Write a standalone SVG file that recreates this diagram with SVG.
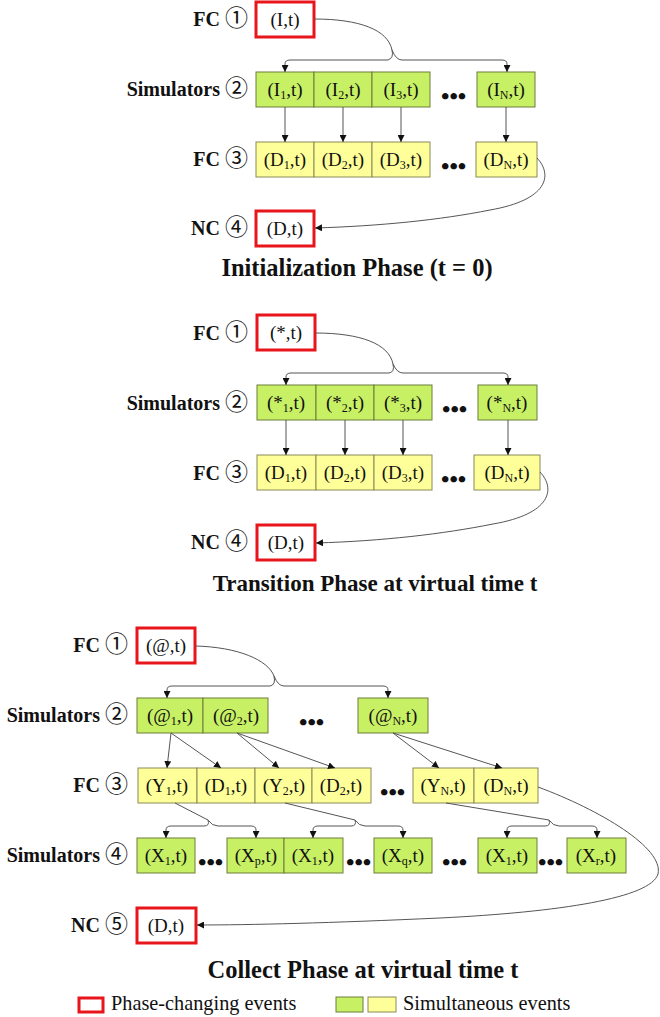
<svg xmlns="http://www.w3.org/2000/svg" width="660" height="1017" viewBox="0 0 660 1017">
  <style>
    .bg{fill:#ffffff}
    .phase{fill:#ffffff;stroke:#e8151b;stroke-width:3}
    .sim{fill:#c8f064;stroke:#6d7c3b;stroke-width:1}
    .fc{fill:#ffff99;stroke:#8a8a58;stroke-width:1}
    .ev{font-family:"Liberation Serif","Times New Roman",serif;font-size:19px;fill:#111;text-anchor:middle}
    .lbl{font-family:"Liberation Serif","Times New Roman",serif;font-size:20px;font-weight:bold;fill:#111;text-anchor:end}
    .num{font-family:"Noto Sans CJK JP","DejaVu Sans",sans-serif;font-weight:normal;font-size:23px}
    .dots{font-family:"Liberation Serif","Times New Roman",serif;font-size:24px;font-weight:bold;fill:#111}
    .title{font-family:"Liberation Serif","Times New Roman",serif;font-size:24.5px;font-weight:bold;fill:#111;text-anchor:middle}
    .leg{font-family:"Liberation Serif","Times New Roman",serif;font-size:20.3px;fill:#111}
    .sub{font-size:12px}
    .wire{fill:none;stroke:#555;stroke-width:1}
    .arr{marker-end:url(#head)}
  </style>
  <defs>
    <marker id="head" viewBox="0 0 8 8" refX="8" refY="4" markerWidth="7" markerHeight="7" markerUnits="userSpaceOnUse" orient="auto">
      <path d="M0,0 L8,4 L0,8 z" fill="#111"/>
    </marker>
  </defs>
  <rect class="bg" x="0" y="0" width="660" height="1017"/>

  <!-- ===== Initialization phase ===== -->
  <g id="init-labels">
    <text class="lbl" x="248" y="26">FC <tspan class="num">①</tspan></text>
    <text class="lbl" x="248" y="96">Simulators <tspan class="num">②</tspan></text>
    <text class="lbl" x="248" y="166">FC <tspan class="num">③</tspan></text>
    <text class="lbl" x="248" y="235">NC <tspan class="num">④</tspan></text>
  </g>
  <g id="init-fc1"><rect class="phase" x="256" y="2" width="58" height="35"/><text class="ev" x="285" y="26">(I,t)</text></g>
  <g id="init-sim1"><rect class="sim" x="256" y="72" width="58" height="35"/><text class="ev" x="285" y="96">(I<tspan class="sub" dy="3">1</tspan><tspan dy="-3">,t)</tspan></text></g>
  <g id="init-sim2"><rect class="sim" x="314" y="72" width="58" height="35"/><text class="ev" x="343" y="96">(I<tspan class="sub" dy="3">2</tspan><tspan dy="-3">,t)</tspan></text></g>
  <g id="init-sim3"><rect class="sim" x="372" y="72" width="58" height="35"/><text class="ev" x="401" y="96">(I<tspan class="sub" dy="3">3</tspan><tspan dy="-3">,t)</tspan></text></g>
  <text class="dots" x="441" y="104">•••</text>
  <g id="init-simN"><rect class="sim" x="477" y="72" width="58" height="35"/><text class="ev" x="506" y="96">(I<tspan class="sub" dy="3">N</tspan><tspan dy="-3">,t)</tspan></text></g>
  <g id="init-fcd1"><rect class="fc" x="256" y="142" width="58" height="35"/><text class="ev" x="285" y="166">(D<tspan class="sub" dy="3">1</tspan><tspan dy="-3">,t)</tspan></text></g>
  <g id="init-fcd2"><rect class="fc" x="314" y="142" width="58" height="35"/><text class="ev" x="343" y="166">(D<tspan class="sub" dy="3">2</tspan><tspan dy="-3">,t)</tspan></text></g>
  <g id="init-fcd3"><rect class="fc" x="372" y="142" width="58" height="35"/><text class="ev" x="401" y="166">(D<tspan class="sub" dy="3">3</tspan><tspan dy="-3">,t)</tspan></text></g>
  <text class="dots" x="441" y="174">•••</text>
  <g id="init-fcdN"><rect class="fc" x="476" y="142" width="61" height="35"/><text class="ev" x="506" y="166">(D<tspan class="sub" dy="3">N</tspan><tspan dy="-3">,t)</tspan></text></g>
  <g id="init-nc"><rect class="phase" x="256" y="211" width="58" height="35"/><text class="ev" x="285" y="235">(D,t)</text></g>
  <text class="title" x="357" y="276">Initialization Phase (t = 0)</text>

  <!-- ===== Transition phase ===== -->
  <g id="trans-labels">
    <text class="lbl" x="248" y="340">FC <tspan class="num">①</tspan></text>
    <text class="lbl" x="248" y="410">Simulators <tspan class="num">②</tspan></text>
    <text class="lbl" x="248" y="480">FC <tspan class="num">③</tspan></text>
    <text class="lbl" x="248" y="549">NC <tspan class="num">④</tspan></text>
  </g>
  <g id="trans-fc1"><rect class="phase" x="257" y="315" width="58" height="35"/><text class="ev" x="286" y="339">(*,t)</text></g>
  <g id="trans-sim1"><rect class="sim" x="257" y="385" width="59" height="35"/><text class="ev" x="286" y="409">(*<tspan class="sub" dy="3">1</tspan><tspan dy="-3">,t)</tspan></text></g>
  <g id="trans-sim2"><rect class="sim" x="316" y="385" width="58" height="35"/><text class="ev" x="345" y="409">(*<tspan class="sub" dy="3">2</tspan><tspan dy="-3">,t)</tspan></text></g>
  <g id="trans-sim3"><rect class="sim" x="374" y="385" width="58" height="35"/><text class="ev" x="403" y="409">(*<tspan class="sub" dy="3">3</tspan><tspan dy="-3">,t)</tspan></text></g>
  <text class="dots" x="442" y="417">•••</text>
  <g id="trans-simN"><rect class="sim" x="478" y="385" width="59" height="35"/><text class="ev" x="507" y="409">(*<tspan class="sub" dy="3">N</tspan><tspan dy="-3">,t)</tspan></text></g>
  <g id="trans-fcd1"><rect class="fc" x="257" y="455" width="59" height="35"/><text class="ev" x="286" y="479">(D<tspan class="sub" dy="3">1</tspan><tspan dy="-3">,t)</tspan></text></g>
  <g id="trans-fcd2"><rect class="fc" x="316" y="455" width="58" height="35"/><text class="ev" x="345" y="479">(D<tspan class="sub" dy="3">2</tspan><tspan dy="-3">,t)</tspan></text></g>
  <g id="trans-fcd3"><rect class="fc" x="374" y="455" width="58" height="35"/><text class="ev" x="403" y="479">(D<tspan class="sub" dy="3">3</tspan><tspan dy="-3">,t)</tspan></text></g>
  <text class="dots" x="441" y="487">•••</text>
  <g id="trans-fcdN"><rect class="fc" x="474" y="455" width="66" height="35"/><text class="ev" x="507" y="479">(D<tspan class="sub" dy="3">N</tspan><tspan dy="-3">,t)</tspan></text></g>
  <g id="trans-nc"><rect class="phase" x="257" y="525" width="58" height="35"/><text class="ev" x="286" y="549">(D,t)</text></g>
  <text class="title" x="375" y="591" style="font-size:23px">Transition Phase at virtual time t</text>

  <!-- ===== Collect phase ===== -->
  <g id="coll-labels">
    <text class="lbl" x="128" y="652">FC <tspan class="num">①</tspan></text>
    <text class="lbl" x="128" y="722">Simulators <tspan class="num">②</tspan></text>
    <text class="lbl" x="128" y="792">FC <tspan class="num">③</tspan></text>
    <text class="lbl" x="128" y="862">Simulators <tspan class="num">④</tspan></text>
    <text class="lbl" x="128" y="932">NC <tspan class="num">⑤</tspan></text>
  </g>
  <g id="coll-fc1"><rect class="phase" x="137" y="628" width="58" height="35"/><text class="ev" x="166" y="652">(@,t)</text></g>
  <g id="coll-sim1"><rect class="sim" x="137" y="698" width="66" height="35"/><text class="ev" x="170" y="722">(@<tspan class="sub" dy="3">1</tspan><tspan dy="-3">,t)</tspan></text></g>
  <g id="coll-sim2"><rect class="sim" x="203" y="698" width="65" height="35"/><text class="ev" x="236" y="722">(@<tspan class="sub" dy="3">2</tspan><tspan dy="-3">,t)</tspan></text></g>
  <text class="dots" x="299" y="730">•••</text>
  <g id="coll-simN"><rect class="sim" x="358" y="698" width="70" height="35"/><text class="ev" x="393" y="722">(@<tspan class="sub" dy="3">N</tspan><tspan dy="-3">,t)</tspan></text></g>

  <g id="coll-fcy1"><rect class="fc" x="138" y="768" width="59" height="35"/><text class="ev" x="167" y="792">(Y<tspan class="sub" dy="3">1</tspan><tspan dy="-3">,t)</tspan></text></g>
  <g id="coll-fcd1"><rect class="fc" x="197" y="768" width="58" height="35"/><text class="ev" x="226" y="792">(D<tspan class="sub" dy="3">1</tspan><tspan dy="-3">,t)</tspan></text></g>
  <g id="coll-fcy2"><rect class="fc" x="255" y="768" width="57" height="35"/><text class="ev" x="284" y="792">(Y<tspan class="sub" dy="3">2</tspan><tspan dy="-3">,t)</tspan></text></g>
  <g id="coll-fcd2"><rect class="fc" x="312" y="768" width="59" height="35"/><text class="ev" x="341" y="792">(D<tspan class="sub" dy="3">2</tspan><tspan dy="-3">,t)</tspan></text></g>
  <text class="dots" x="380" y="800">•••</text>
  <g id="coll-fcyN"><rect class="fc" x="413" y="768" width="61" height="35"/><text class="ev" x="443" y="792">(Y<tspan class="sub" dy="3">N</tspan><tspan dy="-3">,t)</tspan></text></g>
  <g id="coll-fcdN"><rect class="fc" x="474" y="768" width="64" height="35"/><text class="ev" x="506" y="792">(D<tspan class="sub" dy="3">N</tspan><tspan dy="-3">,t)</tspan></text></g>

  <g id="coll-x1a"><rect class="sim" x="137" y="838" width="58" height="35"/><text class="ev" x="166" y="862">(X<tspan class="sub" dy="3">1</tspan><tspan dy="-3">,t)</tspan></text></g>
  <text class="dots" x="198" y="870">•••</text>
  <g id="coll-xp"><rect class="sim" x="227" y="838" width="57" height="35"/><text class="ev" x="256" y="862">(X<tspan class="sub" dy="3">p</tspan><tspan dy="-3">,t)</tspan></text></g>
  <g id="coll-x1b"><rect class="sim" x="284" y="838" width="59" height="35"/><text class="ev" x="313" y="862">(X<tspan class="sub" dy="3">1</tspan><tspan dy="-3">,t)</tspan></text></g>
  <text class="dots" x="346" y="870">•••</text>
  <g id="coll-xq"><rect class="sim" x="374" y="838" width="58" height="35"/><text class="ev" x="403" y="862">(X<tspan class="sub" dy="3">q</tspan><tspan dy="-3">,t)</tspan></text></g>
  <text class="dots" x="442" y="870">•••</text>
  <g id="coll-x1c"><rect class="sim" x="478" y="838" width="59" height="35"/><text class="ev" x="507" y="862">(X<tspan class="sub" dy="3">1</tspan><tspan dy="-3">,t)</tspan></text></g>
  <text class="dots" x="538" y="870">•••</text>
  <g id="coll-xr"><rect class="sim" x="567" y="838" width="59" height="35"/><text class="ev" x="596" y="862">(X<tspan class="sub" dy="3">r</tspan><tspan dy="-3">,t)</tspan></text></g>
  <g id="coll-nc"><rect class="phase" x="137" y="908" width="59" height="35"/><text class="ev" x="166" y="932">(D,t)</text></g>
  <text class="title" x="363" y="978">Collect Phase at virtual time t</text>

  <!-- legend -->
  <g id="legend">
    <rect class="phase" x="79" y="998" width="24" height="14" stroke-width="2.5"/>
    <text class="leg" x="111" y="1010">Phase-changing events</text>
    <rect class="sim" x="336" y="997" width="27" height="15"/>
    <rect class="fc" x="368" y="997" width="28" height="15"/>
    <text class="leg" x="403" y="1010">Simultaneous events</text>
  </g>

  <!-- connectors -->
  <g id="connectors">
    <!-- initialization -->
    <path class="wire" d="M314,19 C360,19 388,30 392,50 Q394,58 388,60 L290,60 Q285,60 285,64 L285,72" marker-end="url(#head)"/>
    <path class="wire" d="M392,50 Q396,60 402,60 L502,60 Q507,60 507,64 L507,72" marker-end="url(#head)"/>
    <path class="wire arr" d="M285,107 L285,142"/>
    <path class="wire arr" d="M343,107 L343,142"/>
    <path class="wire arr" d="M401,107 L401,142"/>
    <path class="wire arr" d="M506,107 L506,142"/>
    <path class="wire arr" d="M537,158 C553,175 548,200 490,210 C440,220 380,226 315,228"/>

    <!-- transition -->
    <path class="wire" d="M315,333 C361,333 389,344 393,364 Q395,372 389,373 L291,373 Q286,373 286,377 L286,385" marker-end="url(#head)"/>
    <path class="wire" d="M393,364 Q397,373 403,373 L503,373 Q508,373 508,377 L508,385" marker-end="url(#head)"/>
    <path class="wire arr" d="M286,420 L286,455"/>
    <path class="wire arr" d="M345,420 L345,455"/>
    <path class="wire arr" d="M403,420 L403,455"/>
    <path class="wire arr" d="M508,420 L508,455"/>
    <path class="wire arr" d="M540,472 C556,489 551,514 493,524 C443,534 383,541 316,543"/>

    <!-- collect -->
    <path class="wire" d="M195,646 C238,647 268,660 274,676 Q276,685 270,686 L172,686 Q167,686 167,690 L167,698" marker-end="url(#head)"/>
    <path class="wire" d="M274,676 Q278,686 284,686 L383,686 Q388,686 388,690 L388,698" marker-end="url(#head)"/>
    <path class="wire arr" d="M171,733 L167,768"/>
    <path class="wire arr" d="M171,733 L221,768"/>
    <path class="wire arr" d="M237,733 L279,768"/>
    <path class="wire arr" d="M237,733 L335,768"/>
    <path class="wire arr" d="M393,733 L439,768"/>
    <path class="wire arr" d="M393,733 L502,768"/>

    <path class="wire" d="M175,803 L208,820 Q210,826 204,826 L171,826 Q166,826 166,830 L166,838" marker-end="url(#head)"/>
    <path class="wire" d="M208,820 Q212,826 218,826 L251,826 Q256,826 256,830 L256,838" marker-end="url(#head)"/>
    <path class="wire" d="M285,803 L355,820 Q357,826 351,826 L318,826 Q313,826 313,830 L313,838" marker-end="url(#head)"/>
    <path class="wire" d="M355,820 Q359,826 365,826 L398,826 Q403,826 403,830 L403,838" marker-end="url(#head)"/>
    <path class="wire" d="M446,803 L549,820 Q551,826 545,826 L512,826 Q507,826 507,830 L507,838" marker-end="url(#head)"/>
    <path class="wire" d="M549,820 Q553,826 559,826 L592,826 Q597,826 597,830 L597,838" marker-end="url(#head)"/>

    <path class="wire arr" d="M538,787 C600,810 664,848 658,874 C651,898 560,912 440,918 C330,923 250,925 197,925"/>
  </g>
</svg>
